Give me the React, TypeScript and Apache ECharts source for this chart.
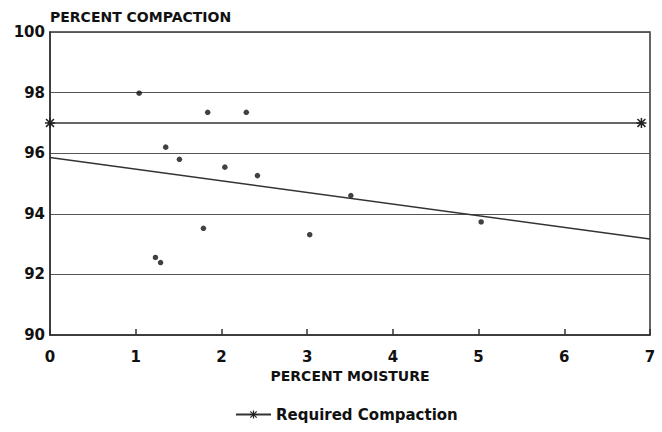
import React, { useEffect, useRef } from "react";
import * as echarts from "echarts";

// Field test results: moisture content vs. compaction achieved
const moisture = [1.04, 1.84, 2.29, 1.35, 1.51, 2.04, 2.42, 1.23, 1.29, 1.79, 3.03, 3.51, 5.03];
const compaction = [97.98, 97.35, 97.35, 96.2, 95.8, 95.54, 95.26, 92.56, 92.39, 93.52, 93.31, 94.6, 93.73];

// Fitted trend line end points
const trendX = [0, 7];
const trendY = [95.86, 93.17];

// Required compaction specification
const requiredX = [0, 6.9];
const requiredY = [97, 97];

const yTicks = { min: 90, max: 100, interval: 2 };
const xTicks = { min: 0, max: 7, interval: 1 };

const FONT = "DejaVu Sans";
const ASTERISK =
  "path://M8.5,0L11.5,0L11.5,20L8.5,20Z M0,8.5L20,8.5L20,11.5L0,11.5Z M1,3.1L3.1,1L19,16.9L16.9,19Z M16.9,1L19,3.1L3.1,19L1,16.9Z";

export default function App() {
  const ref = useRef<HTMLDivElement>(null);

  useEffect(() => {
    if (!ref.current) return;
    const chart = echarts.init(ref.current, undefined, { renderer: "svg" });
    chart.setOption({
      animation: false,
      backgroundColor: "#fff",
      grid: {
        left: 50,
        right: 12,
        top: 32,
        bottom: 97,
        show: true,
        borderColor: "#333",
        borderWidth: 1.5,
      },
      legend: {
        data: ["Required Compaction"],
        left: 230,
        top: 402,
        itemWidth: 35,
        itemHeight: 10,
        itemGap: 5,
        textStyle: { fontFamily: FONT, fontWeight: "bold", fontSize: 15, color: "#111" },
      },
      graphic: [
        {
          type: "text",
          left: 50,
          top: 10,
          style: {
            text: "PERCENT COMPACTION",
            font: `bold 14px "${FONT}"`,
            fill: "#111",
          },
        },
      ],
      xAxis: {
        type: "value",
        min: xTicks.min,
        max: xTicks.max,
        interval: xTicks.interval,
        name: "PERCENT MOISTURE",
        nameLocation: "middle",
        nameGap: 34,
        nameTextStyle: { fontFamily: FONT, fontWeight: "bold", fontSize: 14, color: "#111" },
        axisLine: { show: true, lineStyle: { color: "#333", width: 1.5 } },
        axisTick: { show: true, inside: true, length: 6, lineStyle: { color: "#333", width: 1.5 } },
        axisLabel: { fontFamily: FONT, fontWeight: "bold", fontSize: 15, color: "#111", margin: 14 },
        splitLine: { show: false },
      },
      yAxis: {
        type: "value",
        min: yTicks.min,
        max: yTicks.max,
        interval: yTicks.interval,
        axisLine: { show: true, lineStyle: { color: "#333", width: 1.5 } },
        axisTick: { show: false },
        axisLabel: { fontFamily: FONT, fontWeight: "bold", fontSize: 15, color: "#111", margin: 5 },
        splitLine: { show: true, lineStyle: { color: "#555", width: 1.2 } },
      },
      series: [
        {
          name: "Tests",
          type: "scatter",
          data: moisture.map((m, i) => [m, compaction[i]]),
          symbolSize: 5.5,
          itemStyle: { color: "#111" },
        },
        {
          name: "Trend",
          type: "line",
          data: trendX.map((x, i) => [x, trendY[i]]),
          symbol: "none",
          lineStyle: { color: "#333", width: 1.5 },
        },
        {
          name: "Required Compaction",
          type: "line",
          data: requiredX.map((x, i) => [x, requiredY[i]]),
          symbol: ASTERISK,
          symbolSize: 10,
          itemStyle: { color: "#222" },
          lineStyle: { color: "#333", width: 1.5 },
        },
      ],
    });
    return () => chart.dispose();
  }, []);

  return <div ref={ref} style={{ width: 662, height: 432, position: "absolute", left: 0, top: 0 }} />;
}
